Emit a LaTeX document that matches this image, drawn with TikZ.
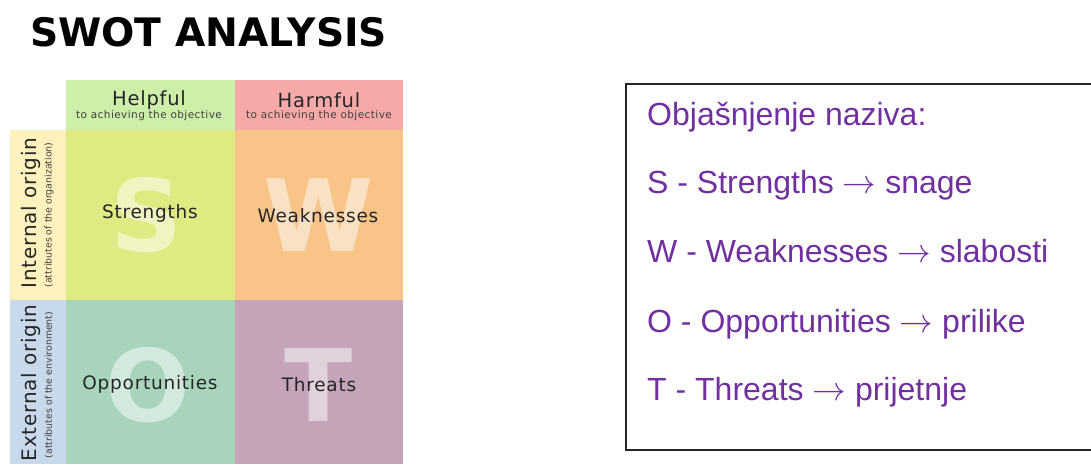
\documentclass[tikz,border=0pt]{standalone}
\usepackage{graphicx}
\usepackage{fontspec}
\setmainfont{DejaVu Sans}
\newfontfamily\gridfont[LetterSpace=4]{DejaVu Sans}
\newfontfamily\legendfont{Liberation Sans}
\usetikzlibrary{positioning}
\definecolor{helpgreen}{RGB}{205,239,169}
\definecolor{harmred}{RGB}{247,168,168}
\definecolor{intyellow}{RGB}{253,242,190}
\definecolor{extblue}{RGB}{199,217,234}
\definecolor{scol}{RGB}{223,234,130}
\definecolor{wcol}{RGB}{248,196,135}
\definecolor{ocol}{RGB}{169,212,188}
\definecolor{tcol}{RGB}{195,164,185}
\definecolor{legendpurple}{RGB}{112,48,160}
\newcommand{\legendarrow}{\scalebox{1.35}{$\rightarrow$}}
\tikzset{
  bigletter/.style={inner sep=0, text=white, text opacity=0.5, font=\fontsize{100}{100}\bfseries\selectfont},
  quadtext/.style={inner sep=0, text=black!85, font=\gridfont\fontsize{18.5}{20}\selectfont},
  headtext/.style={inner sep=0, text=black!85, font=\gridfont\fontsize{19.5}{20}\selectfont},
  sidetext/.style={inner sep=0, text=black!85, rotate=90, font=\gridfont\fontsize{20}{20}\selectfont},
  subtext/.style={inner sep=0, text=black!75, font=\gridfont\fontsize{10.5}{11}\selectfont},
  sidesub/.style={inner sep=0, text=black!75, rotate=90, font=\fontsize{9.4}{10}\selectfont},
  legendline/.style={inner sep=0, anchor=base west, text=legendpurple, font=\legendfont\fontsize{32}{34}\selectfont}
}

\begin{document}
\begin{tikzpicture}[x=1pt, y=-1pt]
			%%%%% START %%%%%
			\useasboundingbox (0, 0) rectangle (1091, 464);
			\clip (0, 0) rectangle (1091, 464);
			
			\node[inner sep=0, anchor=base west, font=\fontsize{39.2}{40}\bfseries\selectfont] (title) at (30, 46) {SWOT ANALYSIS};
			
			\fill[helpgreen] (66, 80) rectangle (235, 130);
			\fill[harmred] (235, 80) rectangle (403, 130);
			\fill[intyellow] (10, 130) rectangle (66, 300);
			\fill[extblue] (10, 300) rectangle (66, 464);
			
			\fill[scol] (66, 130) rectangle (235, 300);
			\fill[wcol] (235, 130) rectangle (403, 300);
			\fill[ocol] (66, 300) rectangle (235, 464);
			\fill[tcol] (235, 300) rectangle (403, 464);
			
			\node[bigletter] (bigS) at (147, 215) {S};
			\node[bigletter] (bigW) at (319, 215) {W};
			\node[bigletter] (bigO) at (148, 385) {O};
			\node[bigletter] (bigT) at (319, 385) {T};
			
			\node[headtext] (helpful) at (149, 100) {Helpful};
			\node[subtext] (helpfulsub) at (149, 116) {to achieving the objective};
			\node[headtext] (harmful) at (319, 100) {Harmful};
			\node[subtext] (harmfulsub) at (319, 116) {to achieving the objective};
			
			\node[sidetext] (internal) at (31, 213) {Internal origin};
			\node[sidesub] (internalsub) at (49, 215) {(attributes of the organization)};
			\node[sidetext] (external) at (31, 383) {External origin};
			\node[sidesub] (externalsub) at (49, 385) {(attributes of the environment)};
			
			\node[quadtext] (strengths) at (150, 213) {Strengths};
			\node[quadtext] (weaknesses) at (318, 216) {Weaknesses};
			\node[quadtext] (opportunities) at (150, 384) {Opportunities};
			\node[quadtext] (threats) at (319, 385) {Threats};
			
			\draw[line width=1.5pt, color=black!85] (626, 84) rectangle (1100, 450);
			
			\node[legendline] (legendhead) at (647, 125) {Objašnjenje naziva:};
			\node[legendline] (legendS) at (647, 193) {S - Strengths \legendarrow{} snage};
			\node[legendline] (legendW) at (647, 262) {W - Weaknesses \legendarrow{} slabosti};
			\node[legendline] (legendO) at (647, 332) {O - Opportunities \legendarrow{} prilike};
			\node[legendline] (legendT) at (647, 400) {T - Threats \legendarrow{} prijetnje};
			
			%%%%% END %%%%%
\end{tikzpicture}
\end{document}
